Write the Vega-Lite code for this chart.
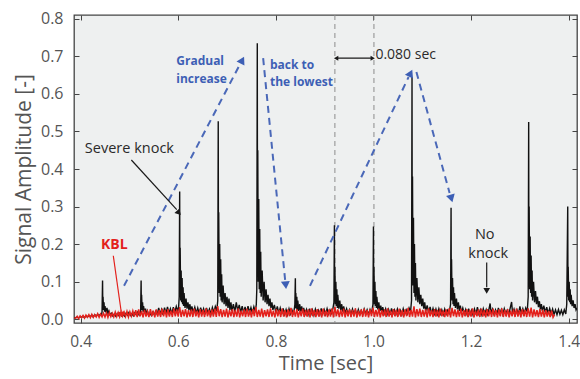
{
  "$schema": "https://vega.github.io/schema/vega-lite/v6.json",
  "width": 503,
  "height": 308,
  "autosize": {"type": "none"},
  "padding": {"left": 74, "top": 15, "right": 3, "bottom": 56},
  "background": "white",
  "config": {
    "view": {"fill": "#eef0f0", "stroke": "#444444", "strokeWidth": 1.3},
    "font": "Open Sans"
  },
  "datasets": {
    "sig": [
      {"t":0.387,"v":0.004},{"t":0.390,"v":0.004},{"t":0.393,"v":0.006},{"t":0.396,"v":0.003},{"t":0.399,"v":0.007},{"t":0.402,"v":0.005},{"t":0.405,"v":0.008},{"t":0.408,"v":0.004},{"t":0.411,"v":0.009},{"t":0.414,"v":0.006},{"t":0.417,"v":0.010},{"t":0.420,"v":0.007},{"t":0.423,"v":0.011},{"t":0.426,"v":0.006},{"t":0.429,"v":0.012},{"t":0.432,"v":0.008},{"t":0.435,"v":0.013},{"t":0.438,"v":0.009},{"t":0.441,"v":0.014},{"t":0.443,"v":0.012},{"t":0.444,"v":0.02},
      {"t":0.445,"v":0.103},{"t":0.4455,"v":0.03},{"t":0.446,"v":0.06},{"t":0.447,"v":0.025},{"t":0.448,"v":0.045},{"t":0.449,"v":0.02},{"t":0.450,"v":0.035},{"t":0.452,"v":0.018},{"t":0.454,"v":0.03},{"t":0.456,"v":0.015},{"t":0.458,"v":0.022},{"t":0.460,"v":0.012},
      {"t":0.463,"v":0.016},{"t":0.466,"v":0.009},{"t":0.469,"v":0.014},{"t":0.472,"v":0.008},{"t":0.475,"v":0.015},{"t":0.478,"v":0.010},{"t":0.481,"v":0.017},{"t":0.484,"v":0.009},{"t":0.487,"v":0.013},{"t":0.490,"v":0.008},{"t":0.493,"v":0.016},{"t":0.496,"v":0.011},{"t":0.499,"v":0.018},{"t":0.502,"v":0.010},{"t":0.505,"v":0.015},{"t":0.508,"v":0.009},{"t":0.511,"v":0.017},{"t":0.514,"v":0.012},{"t":0.517,"v":0.019},{"t":0.520,"v":0.011},{"t":0.523,"v":0.02},
      {"t":0.524,"v":0.103},{"t":0.5245,"v":0.03},{"t":0.525,"v":0.065},{"t":0.526,"v":0.025},{"t":0.527,"v":0.045},{"t":0.528,"v":0.02},{"t":0.529,"v":0.035},{"t":0.531,"v":0.018},{"t":0.533,"v":0.028},{"t":0.535,"v":0.014},{"t":0.537,"v":0.022},{"t":0.539,"v":0.012},
      {"t":0.542,"v":0.016},{"t":0.545,"v":0.010},{"t":0.548,"v":0.019},{"t":0.551,"v":0.012},{"t":0.554,"v":0.021},{"t":0.557,"v":0.013},{"t":0.560,"v":0.03},{"t":0.563,"v":0.014},{"t":0.566,"v":0.026},{"t":0.569,"v":0.012},{"t":0.572,"v":0.031},{"t":0.575,"v":0.015},{"t":0.578,"v":0.033},{"t":0.581,"v":0.016},{"t":0.584,"v":0.028},{"t":0.587,"v":0.014},{"t":0.590,"v":0.032},{"t":0.593,"v":0.018},{"t":0.596,"v":0.034},{"t":0.599,"v":0.02},{"t":0.601,"v":0.035},{"t":0.602,"v":0.06},
      {"t":0.603,"v":0.34},{"t":0.6035,"v":0.07},{"t":0.604,"v":0.19},{"t":0.605,"v":0.05},{"t":0.606,"v":0.13},{"t":0.607,"v":0.045},{"t":0.608,"v":0.11},{"t":0.609,"v":0.04},{"t":0.610,"v":0.085},{"t":0.611,"v":0.035},{"t":0.612,"v":0.07},{"t":0.614,"v":0.03},{"t":0.616,"v":0.055},{"t":0.618,"v":0.028},{"t":0.620,"v":0.045},{"t":0.622,"v":0.024},{"t":0.624,"v":0.04},{"t":0.626,"v":0.02},{"t":0.628,"v":0.034},
      {"t":0.631,"v":0.018},{"t":0.634,"v":0.032},{"t":0.637,"v":0.016},{"t":0.640,"v":0.03},{"t":0.643,"v":0.014},{"t":0.646,"v":0.031},{"t":0.649,"v":0.017},{"t":0.652,"v":0.028},{"t":0.655,"v":0.013},{"t":0.658,"v":0.03},{"t":0.661,"v":0.016},{"t":0.664,"v":0.027},{"t":0.667,"v":0.014},{"t":0.670,"v":0.031},{"t":0.673,"v":0.018},{"t":0.676,"v":0.034},{"t":0.679,"v":0.022},{"t":0.681,"v":0.05},
      {"t":0.682,"v":0.527},{"t":0.6825,"v":0.09},{"t":0.683,"v":0.285},{"t":0.684,"v":0.07},{"t":0.685,"v":0.2},{"t":0.686,"v":0.06},{"t":0.687,"v":0.16},{"t":0.688,"v":0.05},{"t":0.689,"v":0.12},{"t":0.690,"v":0.045},{"t":0.692,"v":0.09},{"t":0.694,"v":0.04},{"t":0.696,"v":0.07},{"t":0.698,"v":0.035},{"t":0.700,"v":0.06},{"t":0.702,"v":0.03},{"t":0.704,"v":0.055},{"t":0.706,"v":0.025},{"t":0.708,"v":0.045},{"t":0.710,"v":0.022},
      {"t":0.713,"v":0.04},{"t":0.716,"v":0.02},{"t":0.719,"v":0.045},{"t":0.722,"v":0.022},{"t":0.725,"v":0.038},{"t":0.728,"v":0.018},{"t":0.731,"v":0.035},{"t":0.734,"v":0.017},{"t":0.737,"v":0.033},{"t":0.740,"v":0.015},{"t":0.743,"v":0.035},{"t":0.746,"v":0.018},{"t":0.749,"v":0.031},{"t":0.752,"v":0.016},{"t":0.755,"v":0.033},{"t":0.758,"v":0.02},{"t":0.760,"v":0.04},{"t":0.761,"v":0.08},
      {"t":0.762,"v":0.735},{"t":0.7625,"v":0.12},{"t":0.763,"v":0.45},{"t":0.764,"v":0.1},{"t":0.765,"v":0.32},{"t":0.766,"v":0.08},{"t":0.767,"v":0.24},{"t":0.768,"v":0.07},{"t":0.769,"v":0.18},{"t":0.770,"v":0.06},{"t":0.772,"v":0.13},{"t":0.774,"v":0.05},{"t":0.776,"v":0.1},{"t":0.778,"v":0.045},{"t":0.780,"v":0.08},{"t":0.782,"v":0.04},{"t":0.784,"v":0.065},{"t":0.786,"v":0.035},{"t":0.788,"v":0.055},{"t":0.790,"v":0.03},{"t":0.792,"v":0.045},{"t":0.794,"v":0.025},
      {"t":0.797,"v":0.038},{"t":0.800,"v":0.018},{"t":0.803,"v":0.034},{"t":0.806,"v":0.016},{"t":0.809,"v":0.03},{"t":0.812,"v":0.014},{"t":0.815,"v":0.029},{"t":0.818,"v":0.013},{"t":0.821,"v":0.026},{"t":0.824,"v":0.012},{"t":0.827,"v":0.028},{"t":0.830,"v":0.014},{"t":0.833,"v":0.025},{"t":0.836,"v":0.013},{"t":0.838,"v":0.028},{"t":0.839,"v":0.04},
      {"t":0.840,"v":0.109},{"t":0.8405,"v":0.03},{"t":0.841,"v":0.07},{"t":0.842,"v":0.028},{"t":0.843,"v":0.06},{"t":0.844,"v":0.025},{"t":0.845,"v":0.05},{"t":0.847,"v":0.022},{"t":0.849,"v":0.04},{"t":0.851,"v":0.02},{"t":0.853,"v":0.034},{"t":0.855,"v":0.018},{"t":0.857,"v":0.03},
      {"t":0.860,"v":0.014},{"t":0.863,"v":0.026},{"t":0.866,"v":0.012},{"t":0.869,"v":0.028},{"t":0.872,"v":0.013},{"t":0.875,"v":0.025},{"t":0.878,"v":0.011},{"t":0.881,"v":0.027},{"t":0.884,"v":0.014},{"t":0.887,"v":0.024},{"t":0.890,"v":0.012},{"t":0.893,"v":0.029},{"t":0.896,"v":0.015},{"t":0.899,"v":0.026},{"t":0.902,"v":0.013},{"t":0.905,"v":0.028},{"t":0.908,"v":0.014},{"t":0.911,"v":0.025},{"t":0.914,"v":0.016},{"t":0.917,"v":0.029},{"t":0.919,"v":0.045},
      {"t":0.920,"v":0.25},{"t":0.9205,"v":0.05},{"t":0.921,"v":0.14},{"t":0.922,"v":0.04},{"t":0.923,"v":0.1},{"t":0.924,"v":0.035},{"t":0.925,"v":0.08},{"t":0.926,"v":0.03},{"t":0.927,"v":0.065},{"t":0.929,"v":0.028},{"t":0.931,"v":0.05},{"t":0.933,"v":0.024},{"t":0.935,"v":0.04},{"t":0.937,"v":0.02},{"t":0.939,"v":0.034},
      {"t":0.942,"v":0.016},{"t":0.945,"v":0.028},{"t":0.948,"v":0.013},{"t":0.951,"v":0.025},{"t":0.954,"v":0.012},{"t":0.957,"v":0.027},{"t":0.960,"v":0.014},{"t":0.963,"v":0.024},{"t":0.966,"v":0.011},{"t":0.969,"v":0.026},{"t":0.972,"v":0.013},{"t":0.975,"v":0.023},{"t":0.978,"v":0.012},{"t":0.981,"v":0.027},{"t":0.984,"v":0.014},{"t":0.987,"v":0.025},{"t":0.990,"v":0.012},{"t":0.993,"v":0.026},{"t":0.996,"v":0.015},{"t":0.999,"v":0.04},
      {"t":1.000,"v":0.247},{"t":1.0005,"v":0.05},{"t":1.001,"v":0.14},{"t":1.002,"v":0.04},{"t":1.003,"v":0.1},{"t":1.004,"v":0.035},{"t":1.005,"v":0.075},{"t":1.006,"v":0.03},{"t":1.007,"v":0.06},{"t":1.009,"v":0.026},{"t":1.011,"v":0.045},{"t":1.013,"v":0.022},{"t":1.015,"v":0.036},{"t":1.017,"v":0.018},{"t":1.019,"v":0.032},
      {"t":1.022,"v":0.015},{"t":1.025,"v":0.028},{"t":1.028,"v":0.013},{"t":1.031,"v":0.026},{"t":1.034,"v":0.012},{"t":1.037,"v":0.029},{"t":1.040,"v":0.015},{"t":1.043,"v":0.025},{"t":1.046,"v":0.013},{"t":1.049,"v":0.027},{"t":1.052,"v":0.014},{"t":1.055,"v":0.024},{"t":1.058,"v":0.012},{"t":1.061,"v":0.028},{"t":1.064,"v":0.014},{"t":1.067,"v":0.025},{"t":1.070,"v":0.015},{"t":1.073,"v":0.03},{"t":1.076,"v":0.02},{"t":1.078,"v":0.05},
      {"t":1.079,"v":0.645},{"t":1.0795,"v":0.1},{"t":1.080,"v":0.38},{"t":1.081,"v":0.09},{"t":1.082,"v":0.27},{"t":1.083,"v":0.07},{"t":1.084,"v":0.2},{"t":1.085,"v":0.06},{"t":1.086,"v":0.15},{"t":1.087,"v":0.05},{"t":1.089,"v":0.11},{"t":1.091,"v":0.045},{"t":1.093,"v":0.085},{"t":1.095,"v":0.04},{"t":1.097,"v":0.065},{"t":1.099,"v":0.035},{"t":1.101,"v":0.055},{"t":1.103,"v":0.028},{"t":1.105,"v":0.045},{"t":1.107,"v":0.022},
      {"t":1.110,"v":0.037},{"t":1.113,"v":0.018},{"t":1.116,"v":0.033},{"t":1.119,"v":0.015},{"t":1.122,"v":0.029},{"t":1.125,"v":0.014},{"t":1.128,"v":0.027},{"t":1.131,"v":0.013},{"t":1.134,"v":0.028},{"t":1.137,"v":0.014},{"t":1.140,"v":0.025},{"t":1.143,"v":0.012},{"t":1.146,"v":0.027},{"t":1.149,"v":0.014},{"t":1.152,"v":0.024},{"t":1.155,"v":0.016},{"t":1.158,"v":0.04},
      {"t":1.159,"v":0.297},{"t":1.1595,"v":0.06},{"t":1.160,"v":0.16},{"t":1.161,"v":0.05},{"t":1.162,"v":0.11},{"t":1.163,"v":0.04},{"t":1.164,"v":0.085},{"t":1.165,"v":0.035},{"t":1.166,"v":0.07},{"t":1.168,"v":0.03},{"t":1.170,"v":0.055},{"t":1.172,"v":0.026},{"t":1.174,"v":0.045},{"t":1.176,"v":0.022},{"t":1.178,"v":0.036},{"t":1.180,"v":0.018},
      {"t":1.183,"v":0.03},{"t":1.186,"v":0.014},{"t":1.189,"v":0.026},{"t":1.192,"v":0.012},{"t":1.195,"v":0.028},{"t":1.198,"v":0.013},{"t":1.201,"v":0.024},{"t":1.204,"v":0.011},{"t":1.207,"v":0.027},{"t":1.210,"v":0.013},{"t":1.213,"v":0.032},{"t":1.216,"v":0.014},{"t":1.219,"v":0.025},{"t":1.222,"v":0.012},{"t":1.225,"v":0.028},{"t":1.228,"v":0.014},{"t":1.231,"v":0.026},{"t":1.234,"v":0.013},{"t":1.237,"v":0.029},{"t":1.239,"v":0.042},{"t":1.241,"v":0.016},{"t":1.244,"v":0.027},{"t":1.247,"v":0.013},{"t":1.250,"v":0.025},{"t":1.253,"v":0.012},{"t":1.256,"v":0.03},{"t":1.259,"v":0.015},{"t":1.262,"v":0.026},{"t":1.265,"v":0.013},{"t":1.268,"v":0.028},{"t":1.271,"v":0.014},{"t":1.274,"v":0.024},{"t":1.277,"v":0.013},{"t":1.280,"v":0.029},{"t":1.283,"v":0.046},{"t":1.285,"v":0.016},{"t":1.288,"v":0.027},{"t":1.291,"v":0.013},{"t":1.294,"v":0.025},{"t":1.297,"v":0.012},{"t":1.300,"v":0.034},{"t":1.303,"v":0.015},{"t":1.306,"v":0.028},{"t":1.309,"v":0.014},{"t":1.312,"v":0.03},{"t":1.315,"v":0.02},{"t":1.317,"v":0.06},
      {"t":1.318,"v":0.525},{"t":1.3185,"v":0.09},{"t":1.319,"v":0.3},{"t":1.320,"v":0.08},{"t":1.321,"v":0.22},{"t":1.322,"v":0.07},{"t":1.323,"v":0.17},{"t":1.324,"v":0.06},{"t":1.325,"v":0.13},{"t":1.326,"v":0.05},{"t":1.328,"v":0.1},{"t":1.330,"v":0.045},{"t":1.332,"v":0.075},{"t":1.334,"v":0.04},{"t":1.336,"v":0.06},{"t":1.338,"v":0.032},{"t":1.340,"v":0.048},{"t":1.342,"v":0.026},{"t":1.344,"v":0.04},{"t":1.346,"v":0.022},
      {"t":1.349,"v":0.036},{"t":1.352,"v":0.018},{"t":1.355,"v":0.032},{"t":1.358,"v":0.015},{"t":1.361,"v":0.029},{"t":1.364,"v":0.014},{"t":1.367,"v":0.027},{"t":1.370,"v":0.013},{"t":1.373,"v":0.025},{"t":1.376,"v":0.012},{"t":1.379,"v":0.026},{"t":1.382,"v":0.013},{"t":1.385,"v":0.024},{"t":1.388,"v":0.012},{"t":1.391,"v":0.025},{"t":1.394,"v":0.014},{"t":1.396,"v":0.04},
      {"t":1.398,"v":0.30},{"t":1.3985,"v":0.06},{"t":1.399,"v":0.14},{"t":1.400,"v":0.05},{"t":1.401,"v":0.1},{"t":1.402,"v":0.045},{"t":1.403,"v":0.08},{"t":1.404,"v":0.04},{"t":1.405,"v":0.065},{"t":1.407,"v":0.035},{"t":1.409,"v":0.05},{"t":1.411,"v":0.03},{"t":1.413,"v":0.04},{"t":1.415,"v":0.025},{"t":1.417,"v":0.03}
    ],
    "kbl": [
      {"t":0.387,"v":0.003},{"t":0.390,"v":0.003},{"t":0.393,"v":0.008},{"t":0.396,"v":0.002},{"t":0.399,"v":0.009},{"t":0.402,"v":0.004},{"t":0.405,"v":0.010},{"t":0.408,"v":0.003},{"t":0.411,"v":0.011},{"t":0.414,"v":0.005},{"t":0.417,"v":0.012},{"t":0.420,"v":0.004},{"t":0.423,"v":0.013},{"t":0.426,"v":0.005},{"t":0.429,"v":0.012},{"t":0.432,"v":0.006},{"t":0.435,"v":0.015},{"t":0.438,"v":0.005},{"t":0.441,"v":0.014},{"t":0.444,"v":0.006},{"t":0.447,"v":0.016},
      {"t":0.450,"v":0.006},{"t":0.453,"v":0.017},{"t":0.456,"v":0.005},{"t":0.459,"v":0.018},{"t":0.462,"v":0.007},{"t":0.465,"v":0.016},{"t":0.468,"v":0.006},{"t":0.471,"v":0.019},{"t":0.474,"v":0.007},{"t":0.477,"v":0.018},{"t":0.480,"v":0.006},{"t":0.483,"v":0.02},{"t":0.486,"v":0.008},{"t":0.489,"v":0.019},{"t":0.492,"v":0.007},{"t":0.495,"v":0.021},{"t":0.498,"v":0.006},{"t":0.501,"v":0.02},{"t":0.504,"v":0.008},{"t":0.507,"v":0.022},
      {"t":0.510,"v":0.007},{"t":0.513,"v":0.024},{"t":0.516,"v":0.006},{"t":0.519,"v":0.026},{"t":0.522,"v":0.008},{"t":0.525,"v":0.022},{"t":0.528,"v":0.005},{"t":0.531,"v":0.025},{"t":0.534,"v":0.007},{"t":0.537,"v":0.021},{"t":0.540,"v":0.006},{"t":0.543,"v":0.027},{"t":0.546,"v":0.008},{"t":0.549,"v":0.023},{"t":0.552,"v":0.005},{"t":0.555,"v":0.026},{"t":0.558,"v":0.007},{"t":0.561,"v":0.024},{"t":0.564,"v":0.006},{"t":0.567,"v":0.028},
      {"t":0.570,"v":0.008},{"t":0.573,"v":0.025},{"t":0.576,"v":0.005},{"t":0.579,"v":0.027},{"t":0.582,"v":0.007},{"t":0.585,"v":0.023},{"t":0.588,"v":0.006},{"t":0.591,"v":0.029},{"t":0.594,"v":0.008},{"t":0.597,"v":0.026},{"t":0.600,"v":0.007},{"t":0.603,"v":0.032},{"t":0.606,"v":0.006},{"t":0.609,"v":0.025},{"t":0.612,"v":0.008},{"t":0.615,"v":0.027},{"t":0.618,"v":0.005},{"t":0.621,"v":0.024},{"t":0.624,"v":0.007},{"t":0.627,"v":0.026},
      {"t":0.630,"v":0.006},{"t":0.633,"v":0.028},{"t":0.636,"v":0.008},{"t":0.639,"v":0.023},{"t":0.642,"v":0.005},{"t":0.645,"v":0.027},{"t":0.648,"v":0.007},{"t":0.651,"v":0.025},{"t":0.654,"v":0.006},{"t":0.657,"v":0.029},{"t":0.660,"v":0.008},{"t":0.663,"v":0.024},{"t":0.666,"v":0.005},{"t":0.669,"v":0.026},{"t":0.672,"v":0.007},{"t":0.675,"v":0.028},{"t":0.678,"v":0.006},{"t":0.681,"v":0.035},{"t":0.684,"v":0.008},{"t":0.687,"v":0.027},
      {"t":0.690,"v":0.006},{"t":0.693,"v":0.025},{"t":0.696,"v":0.007},{"t":0.699,"v":0.028},{"t":0.702,"v":0.005},{"t":0.705,"v":0.024},{"t":0.708,"v":0.008},{"t":0.711,"v":0.027},{"t":0.714,"v":0.006},{"t":0.717,"v":0.025},{"t":0.720,"v":0.007},{"t":0.723,"v":0.029},{"t":0.726,"v":0.005},{"t":0.729,"v":0.023},{"t":0.732,"v":0.008},{"t":0.735,"v":0.026},{"t":0.738,"v":0.006},{"t":0.741,"v":0.028},{"t":0.744,"v":0.007},{"t":0.747,"v":0.024},
      {"t":0.750,"v":0.005},{"t":0.753,"v":0.027},{"t":0.756,"v":0.008},{"t":0.759,"v":0.032},{"t":0.762,"v":0.006},{"t":0.765,"v":0.025},{"t":0.768,"v":0.007},{"t":0.771,"v":0.028},{"t":0.774,"v":0.005},{"t":0.777,"v":0.024},{"t":0.780,"v":0.008},{"t":0.783,"v":0.026},{"t":0.786,"v":0.006},{"t":0.789,"v":0.029},{"t":0.792,"v":0.007},{"t":0.795,"v":0.023},{"t":0.798,"v":0.005},{"t":0.801,"v":0.027},{"t":0.804,"v":0.008},{"t":0.807,"v":0.025},
      {"t":0.810,"v":0.006},{"t":0.813,"v":0.028},{"t":0.816,"v":0.007},{"t":0.819,"v":0.024},{"t":0.822,"v":0.005},{"t":0.825,"v":0.026},{"t":0.828,"v":0.008},{"t":0.831,"v":0.03},{"t":0.834,"v":0.006},{"t":0.837,"v":0.025},{"t":0.840,"v":0.007},{"t":0.843,"v":0.027},{"t":0.846,"v":0.005},{"t":0.849,"v":0.023},{"t":0.852,"v":0.008},{"t":0.855,"v":0.028},{"t":0.858,"v":0.006},{"t":0.861,"v":0.025},{"t":0.864,"v":0.007},{"t":0.867,"v":0.026},
      {"t":0.870,"v":0.005},{"t":0.873,"v":0.029},{"t":0.876,"v":0.008},{"t":0.879,"v":0.024},{"t":0.882,"v":0.006},{"t":0.885,"v":0.027},{"t":0.888,"v":0.007},{"t":0.891,"v":0.025},{"t":0.894,"v":0.005},{"t":0.897,"v":0.028},{"t":0.900,"v":0.008},{"t":0.903,"v":0.023},{"t":0.906,"v":0.006},{"t":0.909,"v":0.026},{"t":0.912,"v":0.007},{"t":0.915,"v":0.029},{"t":0.918,"v":0.005},{"t":0.921,"v":0.033},{"t":0.924,"v":0.008},{"t":0.927,"v":0.026},
      {"t":0.930,"v":0.006},{"t":0.933,"v":0.025},{"t":0.936,"v":0.007},{"t":0.939,"v":0.028},{"t":0.942,"v":0.005},{"t":0.945,"v":0.024},{"t":0.948,"v":0.008},{"t":0.951,"v":0.027},{"t":0.954,"v":0.006},{"t":0.957,"v":0.025},{"t":0.960,"v":0.007},{"t":0.963,"v":0.029},{"t":0.966,"v":0.005},{"t":0.969,"v":0.023},{"t":0.972,"v":0.008},{"t":0.975,"v":0.026},{"t":0.978,"v":0.006},{"t":0.981,"v":0.028},{"t":0.984,"v":0.007},{"t":0.987,"v":0.024},
      {"t":0.990,"v":0.005},{"t":0.993,"v":0.027},{"t":0.996,"v":0.008},{"t":0.999,"v":0.031},{"t":1.002,"v":0.006},{"t":1.005,"v":0.025},{"t":1.008,"v":0.007},{"t":1.011,"v":0.028},{"t":1.014,"v":0.005},{"t":1.017,"v":0.024},{"t":1.020,"v":0.008},{"t":1.023,"v":0.026},{"t":1.026,"v":0.006},{"t":1.029,"v":0.029},{"t":1.032,"v":0.007},{"t":1.035,"v":0.023},{"t":1.038,"v":0.005},{"t":1.041,"v":0.027},{"t":1.044,"v":0.008},{"t":1.047,"v":0.025},
      {"t":1.050,"v":0.006},{"t":1.053,"v":0.028},{"t":1.056,"v":0.007},{"t":1.059,"v":0.024},{"t":1.062,"v":0.005},{"t":1.065,"v":0.026},{"t":1.068,"v":0.008},{"t":1.071,"v":0.03},{"t":1.074,"v":0.006},{"t":1.077,"v":0.025},{"t":1.080,"v":0.007},{"t":1.083,"v":0.034},{"t":1.086,"v":0.005},{"t":1.089,"v":0.027},{"t":1.092,"v":0.008},{"t":1.095,"v":0.028},{"t":1.098,"v":0.006},{"t":1.101,"v":0.025},{"t":1.104,"v":0.007},{"t":1.107,"v":0.026},
      {"t":1.110,"v":0.005},{"t":1.113,"v":0.029},{"t":1.116,"v":0.008},{"t":1.119,"v":0.024},{"t":1.122,"v":0.006},{"t":1.125,"v":0.027},{"t":1.128,"v":0.007},{"t":1.131,"v":0.025},{"t":1.134,"v":0.005},{"t":1.137,"v":0.028},{"t":1.140,"v":0.008},{"t":1.143,"v":0.023},{"t":1.146,"v":0.006},{"t":1.149,"v":0.026},{"t":1.152,"v":0.007},{"t":1.155,"v":0.029},{"t":1.158,"v":0.005},{"t":1.161,"v":0.03},{"t":1.164,"v":0.008},{"t":1.167,"v":0.026},
      {"t":1.170,"v":0.006},{"t":1.173,"v":0.025},{"t":1.176,"v":0.007},{"t":1.179,"v":0.028},{"t":1.182,"v":0.005},{"t":1.185,"v":0.024},{"t":1.188,"v":0.008},{"t":1.191,"v":0.027},{"t":1.194,"v":0.006},{"t":1.197,"v":0.025},{"t":1.200,"v":0.007},{"t":1.203,"v":0.029},{"t":1.206,"v":0.005},{"t":1.209,"v":0.023},{"t":1.212,"v":0.008},{"t":1.215,"v":0.026},{"t":1.218,"v":0.006},{"t":1.221,"v":0.028},{"t":1.224,"v":0.007},{"t":1.227,"v":0.024},
      {"t":1.230,"v":0.005},{"t":1.233,"v":0.027},{"t":1.236,"v":0.008},{"t":1.239,"v":0.025},{"t":1.242,"v":0.006},{"t":1.245,"v":0.028},{"t":1.248,"v":0.007},{"t":1.251,"v":0.024},{"t":1.254,"v":0.005},{"t":1.257,"v":0.026},{"t":1.260,"v":0.008},{"t":1.263,"v":0.029},{"t":1.266,"v":0.006},{"t":1.269,"v":0.025},{"t":1.272,"v":0.007},{"t":1.275,"v":0.027},{"t":1.278,"v":0.005},{"t":1.281,"v":0.023},{"t":1.284,"v":0.008},{"t":1.287,"v":0.026},
      {"t":1.290,"v":0.006},{"t":1.293,"v":0.028},{"t":1.296,"v":0.007},{"t":1.299,"v":0.024},{"t":1.302,"v":0.005},{"t":1.305,"v":0.027},{"t":1.308,"v":0.008},{"t":1.311,"v":0.025},{"t":1.314,"v":0.006},{"t":1.317,"v":0.029},{"t":1.320,"v":0.007},{"t":1.323,"v":0.031},{"t":1.326,"v":0.005},{"t":1.329,"v":0.026},{"t":1.332,"v":0.008},{"t":1.335,"v":0.024},{"t":1.338,"v":0.006},{"t":1.341,"v":0.027},{"t":1.344,"v":0.007},{"t":1.347,"v":0.025},
      {"t":1.350,"v":0.005},{"t":1.353,"v":0.024},{"t":1.356,"v":0.007},{"t":1.359,"v":0.022},{"t":1.362,"v":0.006},{"t":1.365,"v":0.023},{"t":1.368,"v":0.005},{"t":1.371,"v":0.012}
    ]
  },
  "resolve": {"axis": {"x": "independent", "y": "independent"}},
  "layer": [
    {
      "data": {"values": [{"t": 0.921}, {"t": 1.001}]},
      "mark": {"type": "rule", "color": "#8c8c8c", "strokeWidth": 1, "strokeDash": [5, 4]},
      "encoding": {"x": {"field": "t", "type": "quantitative", "axis": null}}
    },
    {
      "data": {"name": "sig"},
      "mark": {"type": "line", "color": "#111111", "strokeWidth": 1.4, "clip": true},
      "encoding": {
        "x": {"field": "t", "type": "quantitative",
          "scale": {"domain": [0.3865, 1.417], "nice": false, "zero": false},
          "axis": {"orient": "bottom", "values": [0.4, 0.6, 0.8, 1.0, 1.2, 1.4], "format": ".1f", "tickSize": -5, "tickColor": "#444444", "labelPadding": 16, "labelFontSize": 15.5, "labelColor": "#555555", "domain": false, "grid": false, "title": "Time [sec]", "titleFontSize": 20, "titleFontWeight": "normal", "titleColor": "#555555", "titlePadding": 4}},
        "y": {"field": "v", "type": "quantitative",
          "scale": {"domain": [-0.01, 0.81], "nice": false, "zero": false},
          "axis": {"orient": "left", "values": [0, 0.1, 0.2, 0.3, 0.4, 0.5, 0.6, 0.7, 0.8], "format": ".1f", "tickSize": -5, "tickColor": "#444444", "labelPadding": 16, "labelFontSize": 16, "labelColor": "#555555", "domain": false, "grid": false, "title": "Signal Amplitude [-]", "titleFontSize": 21, "titleFontWeight": "normal", "titleColor": "#555555", "titlePadding": 6}}
      }
    },
    {
      "data": {"name": "kbl"},
      "mark": {"type": "line", "color": "#e3211c", "strokeWidth": 1.5, "clip": true},
      "encoding": {
        "x": {"field": "t", "type": "quantitative", "axis": null},
        "y": {"field": "v", "type": "quantitative", "axis": null}
      }
    },
    {
      "data": {"values": [
        {"t": 0.489, "v": 0.089, "t2": 0.727, "v2": 0.68},
        {"t": 0.774, "v": 0.695, "t2": 0.819, "v2": 0.105},
        {"t": 0.87, "v": 0.089, "t2": 1.072, "v2": 0.645},
        {"t": 1.088, "v": 0.658, "t2": 1.156, "v2": 0.336}
      ]},
      "mark": {"type": "rule", "color": "#4a68b8", "strokeWidth": 2, "strokeDash": [7, 5]},
      "encoding": {
        "x": {"field": "t", "type": "quantitative", "axis": null},
        "y": {"field": "v", "type": "quantitative", "axis": null},
        "x2": {"field": "t2"},
        "y2": {"field": "v2"}
      }
    },
    {
      "data": {"values": [{"t": 0.73, "v": 0.687}]},
      "mark": {"type": "point", "shape": "triangle", "filled": true, "color": "#3d5fb5", "opacity": 1, "size": 80, "angle": 27.7},
      "encoding": {"x": {"field": "t", "type": "quantitative", "axis": null}, "y": {"field": "v", "type": "quantitative", "axis": null}}
    },
    {
      "data": {"values": [{"t": 0.82, "v": 0.094}]},
      "mark": {"type": "point", "shape": "triangle", "filled": true, "color": "#3d5fb5", "opacity": 1, "size": 80, "angle": 174.3},
      "encoding": {"x": {"field": "t", "type": "quantitative", "axis": null}, "y": {"field": "v", "type": "quantitative", "axis": null}}
    },
    {
      "data": {"values": [{"t": 1.075, "v": 0.652}]},
      "mark": {"type": "point", "shape": "triangle", "filled": true, "color": "#3d5fb5", "opacity": 1, "size": 80, "angle": 25.4},
      "encoding": {"x": {"field": "t", "type": "quantitative", "axis": null}, "y": {"field": "v", "type": "quantitative", "axis": null}}
    },
    {
      "data": {"values": [{"t": 1.159, "v": 0.325}]},
      "mark": {"type": "point", "shape": "triangle", "filled": true, "color": "#3d5fb5", "opacity": 1, "size": 80, "angle": 164.4},
      "encoding": {"x": {"field": "t", "type": "quantitative", "axis": null}, "y": {"field": "v", "type": "quantitative", "axis": null}}
    },
    {
      "data": {"values": [
        {"t": 0.504, "v": 0.424, "t2": 0.597, "v2": 0.292},
        {"t": 1.232, "v": 0.151, "t2": 1.232, "v2": 0.085},
        {"t": 0.925, "v": 0.695, "t2": 0.997, "v2": 0.695}
      ]},
      "mark": {"type": "rule", "color": "#1a1a1a", "strokeWidth": 1.2},
      "encoding": {
        "x": {"field": "t", "type": "quantitative", "axis": null},
        "y": {"field": "v", "type": "quantitative", "axis": null},
        "x2": {"field": "t2"},
        "y2": {"field": "v2"}
      }
    },
    {
      "data": {"values": [{"t": 0.6, "v": 0.285}]},
      "mark": {"type": "point", "shape": "triangle", "filled": true, "color": "#1a1a1a", "opacity": 1, "size": 45, "angle": 138},
      "encoding": {"x": {"field": "t", "type": "quantitative", "axis": null}, "y": {"field": "v", "type": "quantitative", "axis": null}}
    },
    {
      "data": {"values": [{"t": 1.232, "v": 0.078}]},
      "mark": {"type": "point", "shape": "triangle", "filled": true, "color": "#1a1a1a", "opacity": 1, "size": 45, "angle": 180},
      "encoding": {"x": {"field": "t", "type": "quantitative", "axis": null}, "y": {"field": "v", "type": "quantitative", "axis": null}}
    },
    {
      "data": {"values": [{"t": 0.925, "v": 0.695}]},
      "mark": {"type": "point", "shape": "triangle", "filled": true, "color": "#1a1a1a", "opacity": 1, "size": 25, "angle": 270},
      "encoding": {"x": {"field": "t", "type": "quantitative", "axis": null}, "y": {"field": "v", "type": "quantitative", "axis": null}}
    },
    {
      "data": {"values": [{"t": 0.997, "v": 0.695}]},
      "mark": {"type": "point", "shape": "triangle", "filled": true, "color": "#1a1a1a", "opacity": 1, "size": 25, "angle": 90},
      "encoding": {"x": {"field": "t", "type": "quantitative", "axis": null}, "y": {"field": "v", "type": "quantitative", "axis": null}}
    },
    {
      "data": {"values": [{"t": 0.467, "v": 0.169, "t2": 0.483, "v2": 0.022}]},
      "mark": {"type": "rule", "color": "#e3211c", "strokeWidth": 1.2},
      "encoding": {
        "x": {"field": "t", "type": "quantitative", "axis": null},
        "y": {"field": "v", "type": "quantitative", "axis": null},
        "x2": {"field": "t2"},
        "y2": {"field": "v2"}
      }
    },
    {
      "data": {"values": [{"t": 0.484, "v": 0.015}]},
      "mark": {"type": "point", "shape": "triangle", "filled": true, "color": "#e3211c", "opacity": 1, "size": 45, "angle": 171.8},
      "encoding": {"x": {"field": "t", "type": "quantitative", "axis": null}, "y": {"field": "v", "type": "quantitative", "axis": null}}
    },
    {
      "data": {"values": [{"label": "Gradual", "t": 0.596, "v": 0.687}, {"label": "increase", "t": 0.596, "v": 0.64}, {"label": "back to", "t": 0.788, "v": 0.676}, {"label": "the lowest", "t": 0.788, "v": 0.631}]},
      "mark": {"type": "text", "color": "#3d5fb5", "fontSize": 12, "fontWeight": "bold", "align": "left", "baseline": "middle"},
      "encoding": {"x": {"field": "t", "type": "quantitative", "axis": null}, "y": {"field": "v", "type": "quantitative", "axis": null}, "text": {"field": "label"}}
    },
    {
      "data": {"values": [{"label": "Severe knock", "t": 0.5, "v": 0.452}, {"label": "No", "t": 1.228, "v": 0.223}, {"label": "knock", "t": 1.235, "v": 0.175}]},
      "mark": {"type": "text", "color": "#2a2a2a", "fontSize": 14.5, "align": "center", "baseline": "middle"},
      "encoding": {"x": {"field": "t", "type": "quantitative", "axis": null}, "y": {"field": "v", "type": "quantitative", "axis": null}, "text": {"field": "label"}}
    },
    {
      "data": {"values": [{"label": "0.080 sec", "t": 1.004, "v": 0.703}]},
      "mark": {"type": "text", "color": "#2a2a2a", "fontSize": 14, "align": "left", "baseline": "middle"},
      "encoding": {"x": {"field": "t", "type": "quantitative", "axis": null}, "y": {"field": "v", "type": "quantitative", "axis": null}, "text": {"field": "label"}}
    },
    {
      "data": {"values": [{"label": "KBL", "t": 0.469, "v": 0.198}]},
      "mark": {"type": "text", "color": "#e3211c", "fontSize": 14, "fontWeight": "bold", "align": "center", "baseline": "middle"},
      "encoding": {"x": {"field": "t", "type": "quantitative", "axis": null}, "y": {"field": "v", "type": "quantitative", "axis": null}, "text": {"field": "label"}}
    },
    {
      "data": {"values": [{"t": 1.0, "v": 0.0}]},
      "mark": {"type": "point", "opacity": 0},
      "encoding": {
        "x": {"field": "t", "type": "quantitative", "axis": {"orient": "top", "values": [0.4, 0.6, 0.8, 1.0, 1.2, 1.4], "labels": false, "tickSize": -5, "tickColor": "#444444", "domain": false, "grid": false, "title": null}},
        "y": {"field": "v", "type": "quantitative", "axis": {"orient": "right", "values": [0, 0.1, 0.2, 0.3, 0.4, 0.5, 0.6, 0.7, 0.8], "labels": false, "tickSize": -5, "tickColor": "#444444", "domain": false, "grid": false, "title": null}}
      }
    }
  ]
}
